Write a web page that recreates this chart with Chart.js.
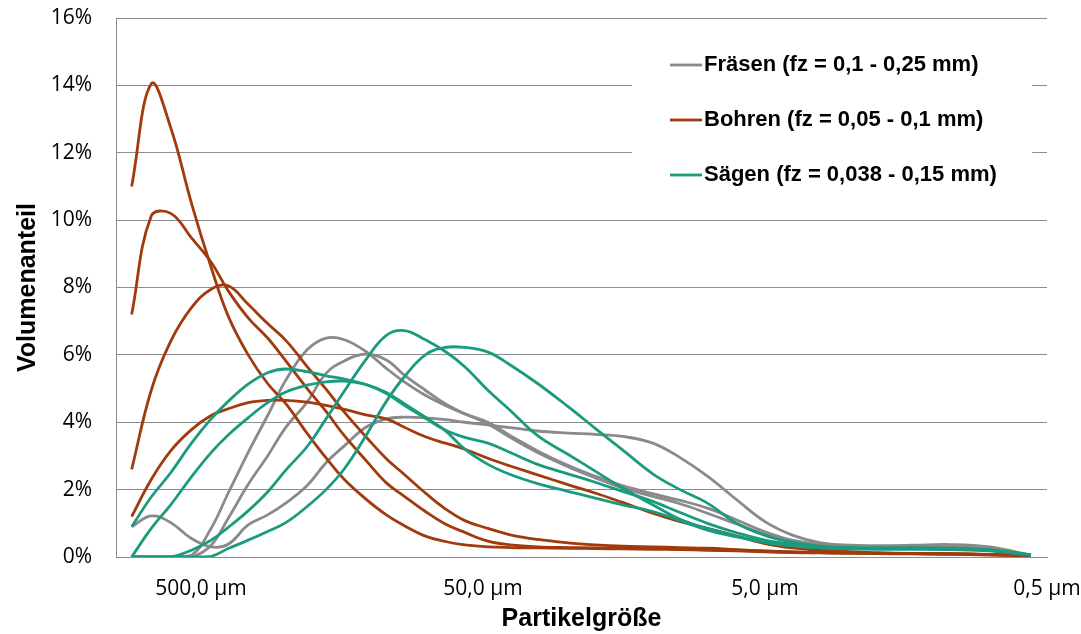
<!DOCTYPE html>
<html>
<head>
<meta charset="utf-8">
<title>Partikelgrößenverteilung</title>
<script src="https://cdn.jsdelivr.net/npm/chart.js@4.4.1/dist/chart.umd.min.js"></script>
<style>
    html, body { margin: 0; padding: 0; background: #fff; }
    #wrap { width: 1081px; height: 634px; }
</style>
</head>
<body>
<div id="wrap"><canvas id="psdChart" width="1081" height="634"></canvas></div>
<script>
// Particle size classes in µm (coarse -> fine)
const sizesUm = [880, 750, 640, 540, 460, 400, 340, 290, 250, 210, 180, 155, 130, 110, 95, 80, 68, 58, 48, 40,
                 32, 25, 20, 16, 12.5, 10, 8, 6.3, 5, 4, 3.2, 2.5, 2, 1.5, 1.1, 0.8, 0.57];

// x axis tick labels
const xTickValues = [500, 50, 5, 0.5];
const xTickLabels = ['500,0 µm', '50,0 µm', '5,0 µm', '0,5 µm'];

// Volumenanteil (%) - Fräsen
const fraesen1 = [0.9, 1.22, 1.02, 0.55, 0.3, 0.38, 0.95, 1.25, 1.6, 2.12, 2.8, 3.3, 3.85, 4.1, 4.15, 4.13, 4.08, 4.0, 3.92, 3.84,
                  3.74, 3.68, 3.64, 3.58, 3.38, 2.95, 2.4, 1.7, 1.05, 0.65, 0.43, 0.35, 0.34, 0.35, 0.37, 0.3, 0.06];
const fraesen2 = [0, 0, 0, 0.05, 0.85, 1.9, 3.1, 4.2, 5.25, 6.15, 6.5, 6.45, 6.1, 5.6, 5.2, 4.8, 4.5, 4.25, 4.0, 3.6,
                  3.15, 2.72, 2.4, 2.12, 1.88, 1.68, 1.45, 1.1, 0.75, 0.5, 0.38, 0.32, 0.3, 0.3, 0.3, 0.25, 0.05];
const fraesen3 = [0, 0, 0, 0, 0.35, 1.15, 2.15, 3.0, 3.85, 4.6, 5.45, 5.82, 6.02, 5.85, 5.4, 4.95, 4.55, 4.25, 3.95, 3.55,
                  3.1, 2.68, 2.35, 2.05, 1.8, 1.58, 1.3, 0.98, 0.68, 0.47, 0.36, 0.3, 0.29, 0.29, 0.28, 0.23, 0.05];

// Volumenanteil (%) - Bohren
const bohren1 = [11.0, 14.05, 12.75, 10.5, 8.6, 7.15, 6.0, 5.15, 4.55, 3.67, 2.94, 2.3, 1.72, 1.25, 0.93, 0.62, 0.46, 0.36, 0.3, 0.28,
                 0.27, 0.26, 0.25, 0.24, 0.23, 0.22, 0.2, 0.18, 0.15, 0.13, 0.12, 0.11, 0.1, 0.09, 0.08, 0.06, 0.03];
const bohren2 = [7.2, 10.12, 10.2, 9.47, 8.75, 7.9, 7.1, 6.5, 5.82, 5.0, 4.32, 3.6, 2.87, 2.2, 1.8, 1.35, 0.98, 0.73, 0.47, 0.36,
                 0.3, 0.28, 0.27, 0.26, 0.25, 0.24, 0.22, 0.2, 0.17, 0.15, 0.13, 0.12, 0.11, 0.1, 0.09, 0.07, 0.04];
const bohren3 = [2.6, 4.95, 6.4, 7.4, 7.95, 8.05, 7.5, 6.93, 6.43, 5.65, 4.98, 4.3, 3.57, 2.92, 2.45, 1.9, 1.43, 1.08, 0.85, 0.66,
                 0.52, 0.42, 0.36, 0.32, 0.3, 0.28, 0.26, 0.22, 0.18, 0.15, 0.13, 0.12, 0.11, 0.1, 0.09, 0.07, 0.04];
const bohren4 = [1.2, 2.3, 3.15, 3.78, 4.2, 4.4, 4.58, 4.65, 4.65, 4.6, 4.5, 4.38, 4.22, 4.1, 3.85, 3.57, 3.38, 3.2, 2.93, 2.7,
                 2.44, 2.15, 1.9, 1.62, 1.3, 1.05, 0.85, 0.62, 0.4, 0.27, 0.2, 0.16, 0.13, 0.11, 0.1, 0.08, 0.04];

// Volumenanteil (%) - Sägen
const saegen1 = [0.9, 1.78, 2.5, 3.38, 4.1, 4.62, 5.13, 5.47, 5.58, 5.5, 5.38, 5.28, 5.12, 4.85, 4.5, 4.12, 3.77, 3.55, 3.38, 3.1,
                 2.75, 2.47, 2.22, 1.95, 1.65, 1.32, 1.0, 0.72, 0.5, 0.38, 0.3, 0.26, 0.25, 0.25, 0.24, 0.2, 0.06];
const saegen2 = [0, 0.85, 1.55, 2.38, 3.1, 3.62, 4.13, 4.58, 4.9, 5.1, 5.2, 5.22, 5.12, 4.88, 4.55, 4.15, 3.75, 3.2, 2.75, 2.45,
                 2.18, 1.95, 1.75, 1.55, 1.35, 1.08, 0.8, 0.6, 0.43, 0.33, 0.27, 0.24, 0.23, 0.23, 0.22, 0.18, 0.05];
const saegen3 = [0, 0, 0, 0.2, 0.5, 0.88, 1.37, 1.93, 2.58, 3.28, 4.1, 4.93, 5.86, 6.58, 6.72, 6.45, 6.1, 5.65, 4.95, 4.35,
                 3.6, 3.05, 2.55, 2.05, 1.55, 1.12, 0.85, 0.62, 0.45, 0.35, 0.29, 0.27, 0.26, 0.26, 0.25, 0.2, 0.06];
const saegen4 = [0, 0, 0, 0, 0.02, 0.25, 0.5, 0.76, 1.02, 1.5, 2.0, 2.62, 3.6, 4.62, 5.35, 6.0, 6.22, 6.22, 6.08, 5.7,
                 5.15, 4.47, 3.82, 3.18, 2.47, 2.0, 1.6, 1.0, 0.64, 0.44, 0.32, 0.28, 0.27, 0.27, 0.26, 0.21, 0.06];

// Legend
const legendNames = ['Fräsen (fz = 0,1 - 0,25 mm)', 'Bohren (fz = 0,05 - 0,1 mm)', 'Sägen (fz = 0,038 - 0,15 mm)'];

const colors = {
    grey: '#8a8a8a',
    brown: '#a13a0c',
    teal: '#1b9b7e',
    grid: '#8c8c8c'
};
const legendColors = [colors.grey, colors.brown, colors.teal];

const tickFont = { family: '"Open Sans", sans-serif', size: 21 };
const titleFont = { family: '"Liberation Sans", Arial, sans-serif', size: 25, weight: 'bold' };

// Build a smoothed line dataset from a value array
function makeSet(label, values, color, order) {
    return {
        label: label,
        data: sizesUm.map((s, i) => ({ x: s, y: values[i] })),
        borderColor: color,
        borderWidth: 2.8,
        pointRadius: 0,
        fill: false,
        tension: 0.4,
        order: order
    };
}

// Keep the plot area fixed: no extra room for overhanging tick labels
function noLabelPadding(axis) {
    axis.paddingTop = 0;
    axis.paddingBottom = 0;
    axis.paddingLeft = 0;
    axis.paddingRight = 0;
}

// Legend drawn inside the plot area (top right), like the original
const insideLegend = {
    id: 'insideLegend',
    afterDraw(chart) {
        const ctx = chart.ctx;
        ctx.save();
        ctx.fillStyle = '#fff';
        ctx.fillRect(632, 40, 400, 160);
        ctx.font = 'bold 22px "Liberation Sans", Arial, sans-serif';
        ctx.textBaseline = 'middle';
        ctx.textAlign = 'left';
        legendNames.forEach((name, i) => {
            const y = 65 + i * 55;
            ctx.strokeStyle = legendColors[i];
            ctx.lineWidth = 2.8;
            ctx.beginPath();
            ctx.moveTo(670, y);
            ctx.lineTo(702, y);
            ctx.stroke();
            ctx.fillStyle = '#000';
            ctx.fillText(name, 704, y);
        });
        ctx.restore();
    }
};

const ctx = document.getElementById('psdChart').getContext('2d');
new Chart(ctx, {
    type: 'line',
    data: {
        datasets: [
            makeSet(legendNames[0], fraesen1, colors.grey, 2),
            makeSet(legendNames[0], fraesen2, colors.grey, 2),
            makeSet(legendNames[0], fraesen3, colors.grey, 2),
            makeSet(legendNames[1], bohren1, colors.brown, 1),
            makeSet(legendNames[1], bohren2, colors.brown, 1),
            makeSet(legendNames[1], bohren3, colors.brown, 1),
            makeSet(legendNames[1], bohren4, colors.brown, 1),
            makeSet(legendNames[2], saegen1, colors.teal, 0),
            makeSet(legendNames[2], saegen2, colors.teal, 0),
            makeSet(legendNames[2], saegen3, colors.teal, 0),
            makeSet(legendNames[2], saegen4, colors.teal, 0)
        ]
    },
    options: {
        responsive: false,
        animation: false,
        layout: { padding: { top: 18, right: 34, left: 0, bottom: 0 } },
        plugins: {
            legend: { display: false },
            tooltip: { enabled: false }
        },
        scales: {
            x: {
                type: 'logarithmic',
                reverse: true,
                min: 0.5,
                max: 1000,
                afterBuildTicks: (axis) => {
                    axis.ticks = xTickValues.map(v => ({ value: v }));
                },
                afterFit: (axis) => {
                    axis.height = 77;
                    noLabelPadding(axis);
                },
                ticks: {
                    autoSkip: false,
                    maxRotation: 0,
                    padding: 19,
                    color: '#000',
                    font: tickFont,
                    callback: (v) => xTickLabels[xTickValues.indexOf(v)]
                },
                grid: { display: false, drawTicks: false },
                border: { display: true, color: colors.grid, width: 1 },
                title: {
                    display: true,
                    text: 'Partikelgröße',
                    color: '#000',
                    font: titleFont,
                    padding: { top: 0, bottom: 0 }
                }
            },
            y: {
                min: 0,
                max: 16,
                afterFit: (axis) => {
                    axis.width = 116;
                    noLabelPadding(axis);
                },
                ticks: {
                    stepSize: 2,
                    padding: 24,
                    color: '#000',
                    font: tickFont,
                    callback: (v) => v + '%'
                },
                grid: { color: colors.grid, lineWidth: 1, drawTicks: false },
                border: { display: true, color: colors.grid, width: 1 },
                title: {
                    display: true,
                    text: 'Volumenanteil',
                    color: '#000',
                    font: titleFont,
                    padding: { top: 13, bottom: 0 }
                }
            }
        }
    },
    plugins: [insideLegend]
});
</script>
</body>
</html>
